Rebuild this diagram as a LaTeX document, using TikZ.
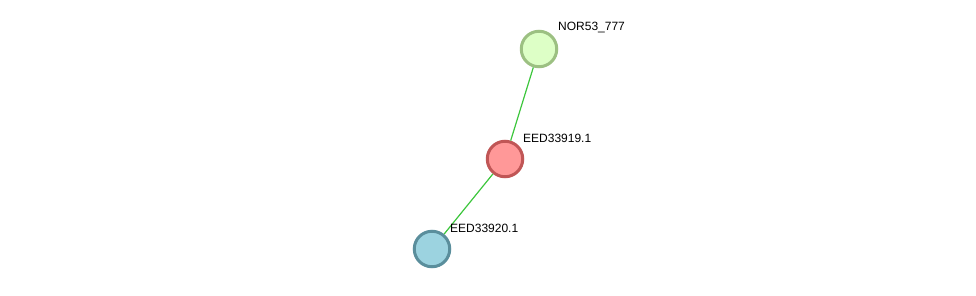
\documentclass[tikz,border=0pt]{standalone}
\usepackage{fontspec}
\setmainfont{Liberation Sans}
\definecolor{gfill}{HTML}{DDFFC6}
\definecolor{gline}{HTML}{9CC082}
\definecolor{rfill}{HTML}{FF9898}
\definecolor{rline}{HTML}{C05656}
\definecolor{bfill}{HTML}{9CD3E0}
\definecolor{bline}{HTML}{5A8E9C}
\definecolor{edgec}{HTML}{3CC63C}
\begin{document}
\begin{tikzpicture}[x=1pt,y=-1pt,
  prot/.style={circle,minimum size=35.5pt,inner sep=0pt,line width=3pt},
  lbl/.style={anchor=west,inner sep=0pt,font=\fontsize{12}{14}\selectfont},
  edge/.style={edgec,line width=1.2pt}]
\useasboundingbox (0,0) rectangle (976,295);
\node[prot,draw=gline,fill=gfill] (n1) at (539,49) {};
\node[prot,draw=rline,fill=rfill] (n2) at (505,159) {};
\node[prot,draw=bline,fill=bfill] (n3) at (432,249) {};
\draw[edge] (n1) -- (n2);
\draw[edge] (n2) -- (n3);
\node[lbl] (l1) at (558,28) {NOR53\_777};
\node[lbl] (l2) at (523,138) {EED33919.1};
\node[lbl] (l3) at (450,228.5) {EED33920.1};
\end{tikzpicture}
\end{document}
